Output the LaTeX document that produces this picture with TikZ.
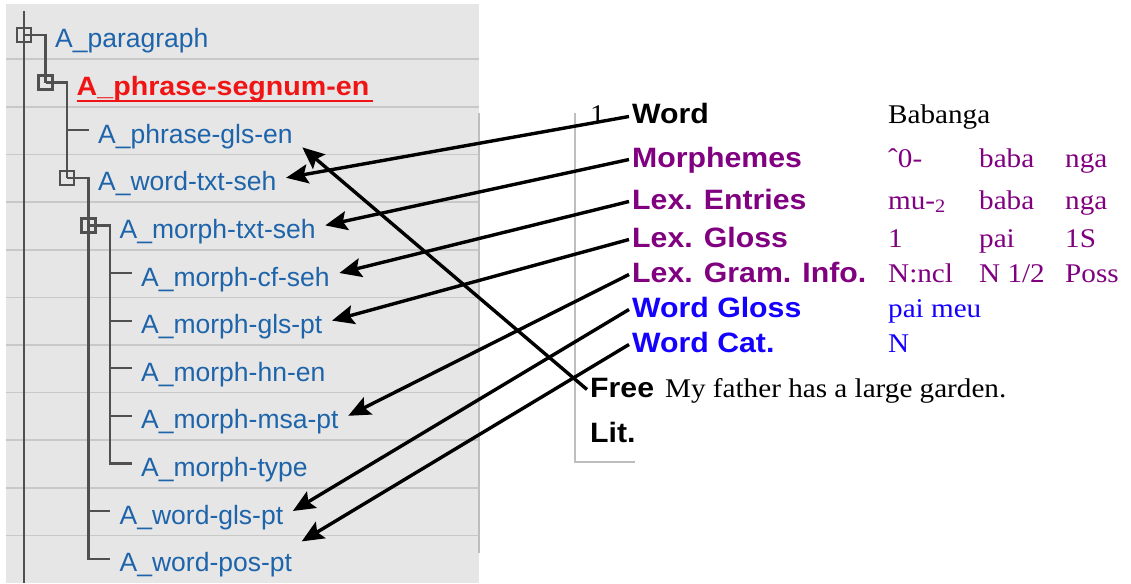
\documentclass[tikz,border=0pt]{standalone}
\usepackage{fontspec}
\setmainfont{Liberation Serif}
\newfontfamily\treefont{Liberation Sans}
\newfontfamily\labfont[FakeStretch=1.08]{Liberation Sans}
\newfontfamily\valfont[FakeStretch=1.08]{Liberation Serif}
\usepackage{tikz}
\usetikzlibrary{arrows.meta}
\definecolor{treeblue}{RGB}{30,100,170}
\definecolor{segred}{RGB}{240,20,20}
\definecolor{lexpurple}{RGB}{128,0,128}
\definecolor{glossblue}{RGB}{20,0,255}
\definecolor{panelgray}{RGB}{230,230,230}
\definecolor{sepgray}{RGB}{200,200,200}
\definecolor{bordergray}{RGB}{190,190,190}
\definecolor{treegray}{RGB}{80,80,80}

\begin{document}
\begin{tikzpicture}[
  x=1pt, y=-1pt,
  >={Stealth[length=22pt, width=19pt, inset=4pt]},
  field/.style={anchor=west, inner xsep=9.5pt, inner ysep=3pt, text height=27pt, text depth=1pt, text=treeblue, font=\treefont\fontsize{26.5}{30}\selectfont},
  xbox/.style={draw=treegray, line width=2.2pt, minimum size=14pt, inner sep=0pt},
  treeline/.style={draw=treegray, line width=2.2pt},
  lab/.style={anchor=base west, inner xsep=3pt, inner ysep=2pt, text height=21pt, text depth=6pt, font=\labfont\bfseries\fontsize{28}{32}\selectfont},
  val/.style={anchor=base west, inner sep=0pt, font=\valfont\fontsize{27}{31}\selectfont},
  link/.style={->, line width=3.4pt}
]
\useasboundingbox (0,0) rectangle (1131,583);

\fill[panelgray] (6,4) rectangle (479,583);
\foreach \k in {0,...,10}
  \draw[sepgray, line width=1.6pt] (6,59.3+47.6*\k) -- (479,59.3+47.6*\k);
\draw[bordergray, line width=1.4pt] (479,113) -- (479,553);
\draw[bordergray, line width=1.4pt] (575,113) |- (635,462);

\node[field] (par) at (45.5,35) {A\_paragraph};
\node[field, text=segred, font=\labfont\bfseries\fontsize{26.5}{30}\selectfont] (seg) at (67,82.6) {A\_phrase-segnum-en};
\node[field] (pgls) at (88.5,130.2) {A\_phrase-gls-en};
\node[field] (wtxt) at (88.5,177.8) {A\_word-txt-seh};
\node[field] (mtxt) at (110,225.4) {A\_morph-txt-seh};
\node[field] (mcf) at (131.5,273) {A\_morph-cf-seh};
\node[field] (mgls) at (131.5,320.6) {A\_morph-gls-pt};
\node[field] (mhn) at (131.5,368.2) {A\_morph-hn-en};
\node[field] (mmsa) at (131.5,415.8) {A\_morph-msa-pt};
\node[field] (mtype) at (131.5,463.4) {A\_morph-type};
\node[field] (wgls) at (110,511) {A\_word-gls-pt};
\node[field] (wpos) at (110,558.6) {A\_word-pos-pt};
\draw[segred, line width=2pt] ([xshift=9.5pt, yshift=-1pt]seg.south west) -- ([xshift=-6.5pt, yshift=-1pt]seg.south east);

\node[xbox] (bpar) at (24,35) {};
\node[xbox] (bseg) at (45.5,82.6) {};
\node[xbox] (bwtxt) at (67,177.8) {};
\node[xbox] (bmtxt) at (88.5,225.4) {};

\draw[treeline] (24,11) -- (24,583);
\draw[treeline] (bpar.center) -- (par.west) -- (bseg.center);
\draw[treeline] (bseg.center) -- (seg.west) -- (bwtxt.center);
\draw[treeline] (seg.west) |- (pgls.west);
\draw[treeline] (bwtxt.center) -- (wtxt.west) |- (wpos.west);
\draw[treeline] (wtxt.west) |- (wgls.west);
\draw[treeline] (bmtxt.center) -- (mtxt.west) |- (mtype.west);
\foreach \n in {mcf, mgls, mhn, mmsa}
  \draw[treeline] (mtxt.west) |- (\n.west);

\node[val] (num) at (590,124) {1};
\node[lab] (lword) at (629,124) {Word};
\node[lab, text=lexpurple] (lmorph) at (629,167) {Morphemes};
\node[lab, text=lexpurple] (lentr) at (629,209) {Lex. Entries};
\node[lab, text=lexpurple] (lgloss) at (629,247) {Lex. Gloss};
\node[lab, text=lexpurple] (lgram) at (629,282) {Lex. Gram. Info.};
\node[lab, text=glossblue] (lwgls) at (629,317) {Word Gloss};
\node[lab, text=glossblue] (lwcat) at (629,352) {Word Cat.};
\node[lab] (lfree) at (587,397) {Free};
\node[lab] (llit) at (587,442) {Lit.};

\node[val] (word1) at (888,124) {Babanga};
\node[val, text=lexpurple] (morph1) at (888,167) {ˆ0-};
\node[val, text=lexpurple] (morph2) at (979,167) {baba};
\node[val, text=lexpurple] (morph3) at (1065,167) {nga};
\node[val, text=lexpurple] (entr1) at (888,209) {mu-\textsubscript{2}};
\node[val, text=lexpurple] (entr2) at (979,209) {baba};
\node[val, text=lexpurple] (entr3) at (1065,209) {nga};
\node[val, text=lexpurple] (gloss1) at (888,247) {1};
\node[val, text=lexpurple] (gloss2) at (979,247) {pai};
\node[val, text=lexpurple] (gloss3) at (1065,247) {1S};
\node[val, text=lexpurple] (gram1) at (888,282) {N:ncl};
\node[val, text=lexpurple] (gram2) at (979,282) {N 1/2};
\node[val, text=lexpurple] (gram3) at (1065,282) {Poss};
\node[val, text=glossblue] (wgls1) at (888,317) {pai meu};
\node[val, text=glossblue] (wcat1) at (888,352) {N};
\node[val] (free1) at (665,397) {My father has a large garden.};

\draw[link] (lword.west) -- (wtxt.east);
\draw[link] (lmorph.west) -- (mtxt.east);
\draw[link] (lentr.west) -- (mcf.east);
\draw[link] (lgloss.west) -- (mgls.east);
\draw[link] (lgram.west) -- (mmsa.east);
\draw[link] (lwgls.west) -- (wgls.east);
\draw[link] (lwcat.west) -- (wpos.north east);
\draw[link] (lfree.west) -- (pgls.south east);
\end{tikzpicture}
\end{document}
